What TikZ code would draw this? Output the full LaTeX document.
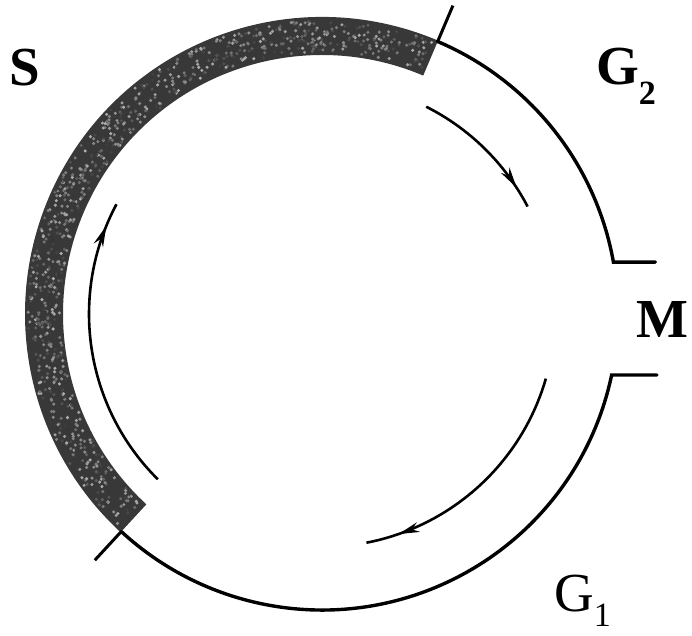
\documentclass[tikz,border=0pt]{standalone}
\usepackage{fontspec}
\setmainfont{Liberation Serif}
\usetikzlibrary{arrows.meta,decorations.markings,calc}
\tikzset{
  ring/.style={line width=3.4pt, line cap=round},
  ticks/.style={line width=3pt},
  cyclearrow/.style={line width=2.6pt, postaction={decorate},
    decoration={markings, mark=at position #1 with {\arrow{Stealth[length=21pt,width=10pt]}}}},
  lab/.style={inner sep=0pt, anchor=base west, font=\fontsize{55}{55}\selectfont\bfseries},
  labn/.style={inner sep=0pt, anchor=base west, font=\fontsize{55}{55}\selectfont},
}
\begin{document}
\begin{tikzpicture}[x=1pt,y=1pt]
\useasboundingbox (0,0) rectangle (692,635);
\coordinate (C) at (322,321);
% S-phase band
\fill[black!78] (C) ++(67:297) arc[start angle=67,end angle=227.3,radius=297]
  -- ++(47.3:38) arc[start angle=227.3,end angle=67,radius=259] -- cycle;
\pgfmathsetseed{7}
\foreach \i in {1,...,900}{
  \pgfmathsetmacro\aa{68+rnd*158}
  \pgfmathsetmacro\rr{262+rnd*32}
  \pgfmathsetmacro\gg{30+rnd*50}
  \fill[black!\gg] (C) ++(\aa:\rr) circle (1.7pt);
}
% outer thin ring, G2 part
\draw[ring] (C) ++(67:296) coordinate (t0) arc[start angle=67,end angle=10.1,radius=296] coordinate (m1) -- ++(42,0) coordinate (m1e);
% outer thin ring, G1 part
\coordinate (m2) at ($(C)+(-11.9:296)$);
\coordinate (m2e) at (657,260);
\draw[ring] (m2e) -- (m2) arc[start angle=-11.9,end angle=-132.7,radius=296] coordinate (b0);
% ticks
\draw[ticks] (C) ++(67:295) coordinate (tk1a) -- ++(67:40) coordinate (tk1b);
\draw[ticks] (C) ++(227.3:297) coordinate (tk2a) -- ++(227.3:38) coordinate (tk2b);
% inner arrows
\draw[cyclearrow=0.85] (C) ++(63.3:232) arc[start angle=63.3,end angle=27.6,radius=232];
\draw[cyclearrow=0.87] (C) ++(-16.1:233) arc[start angle=-16.1,end angle=-79,radius=233];
\draw[cyclearrow=0.92] (C) ++(225.2:233) arc[start angle=225.2,end angle=151.9,radius=233];
% labels
\node[lab] (S) at (9,549) {S};
\node[lab] (G2) at (596,550) {G\raisebox{-20pt}{\fontsize{34}{34}\selectfont 2}};
\node[lab] (M) at (636,298) {M};
\node[labn] (G1) at (554,24) {G\raisebox{-15pt}{\fontsize{34}{34}\selectfont 1}};
\end{tikzpicture}
\end{document}
